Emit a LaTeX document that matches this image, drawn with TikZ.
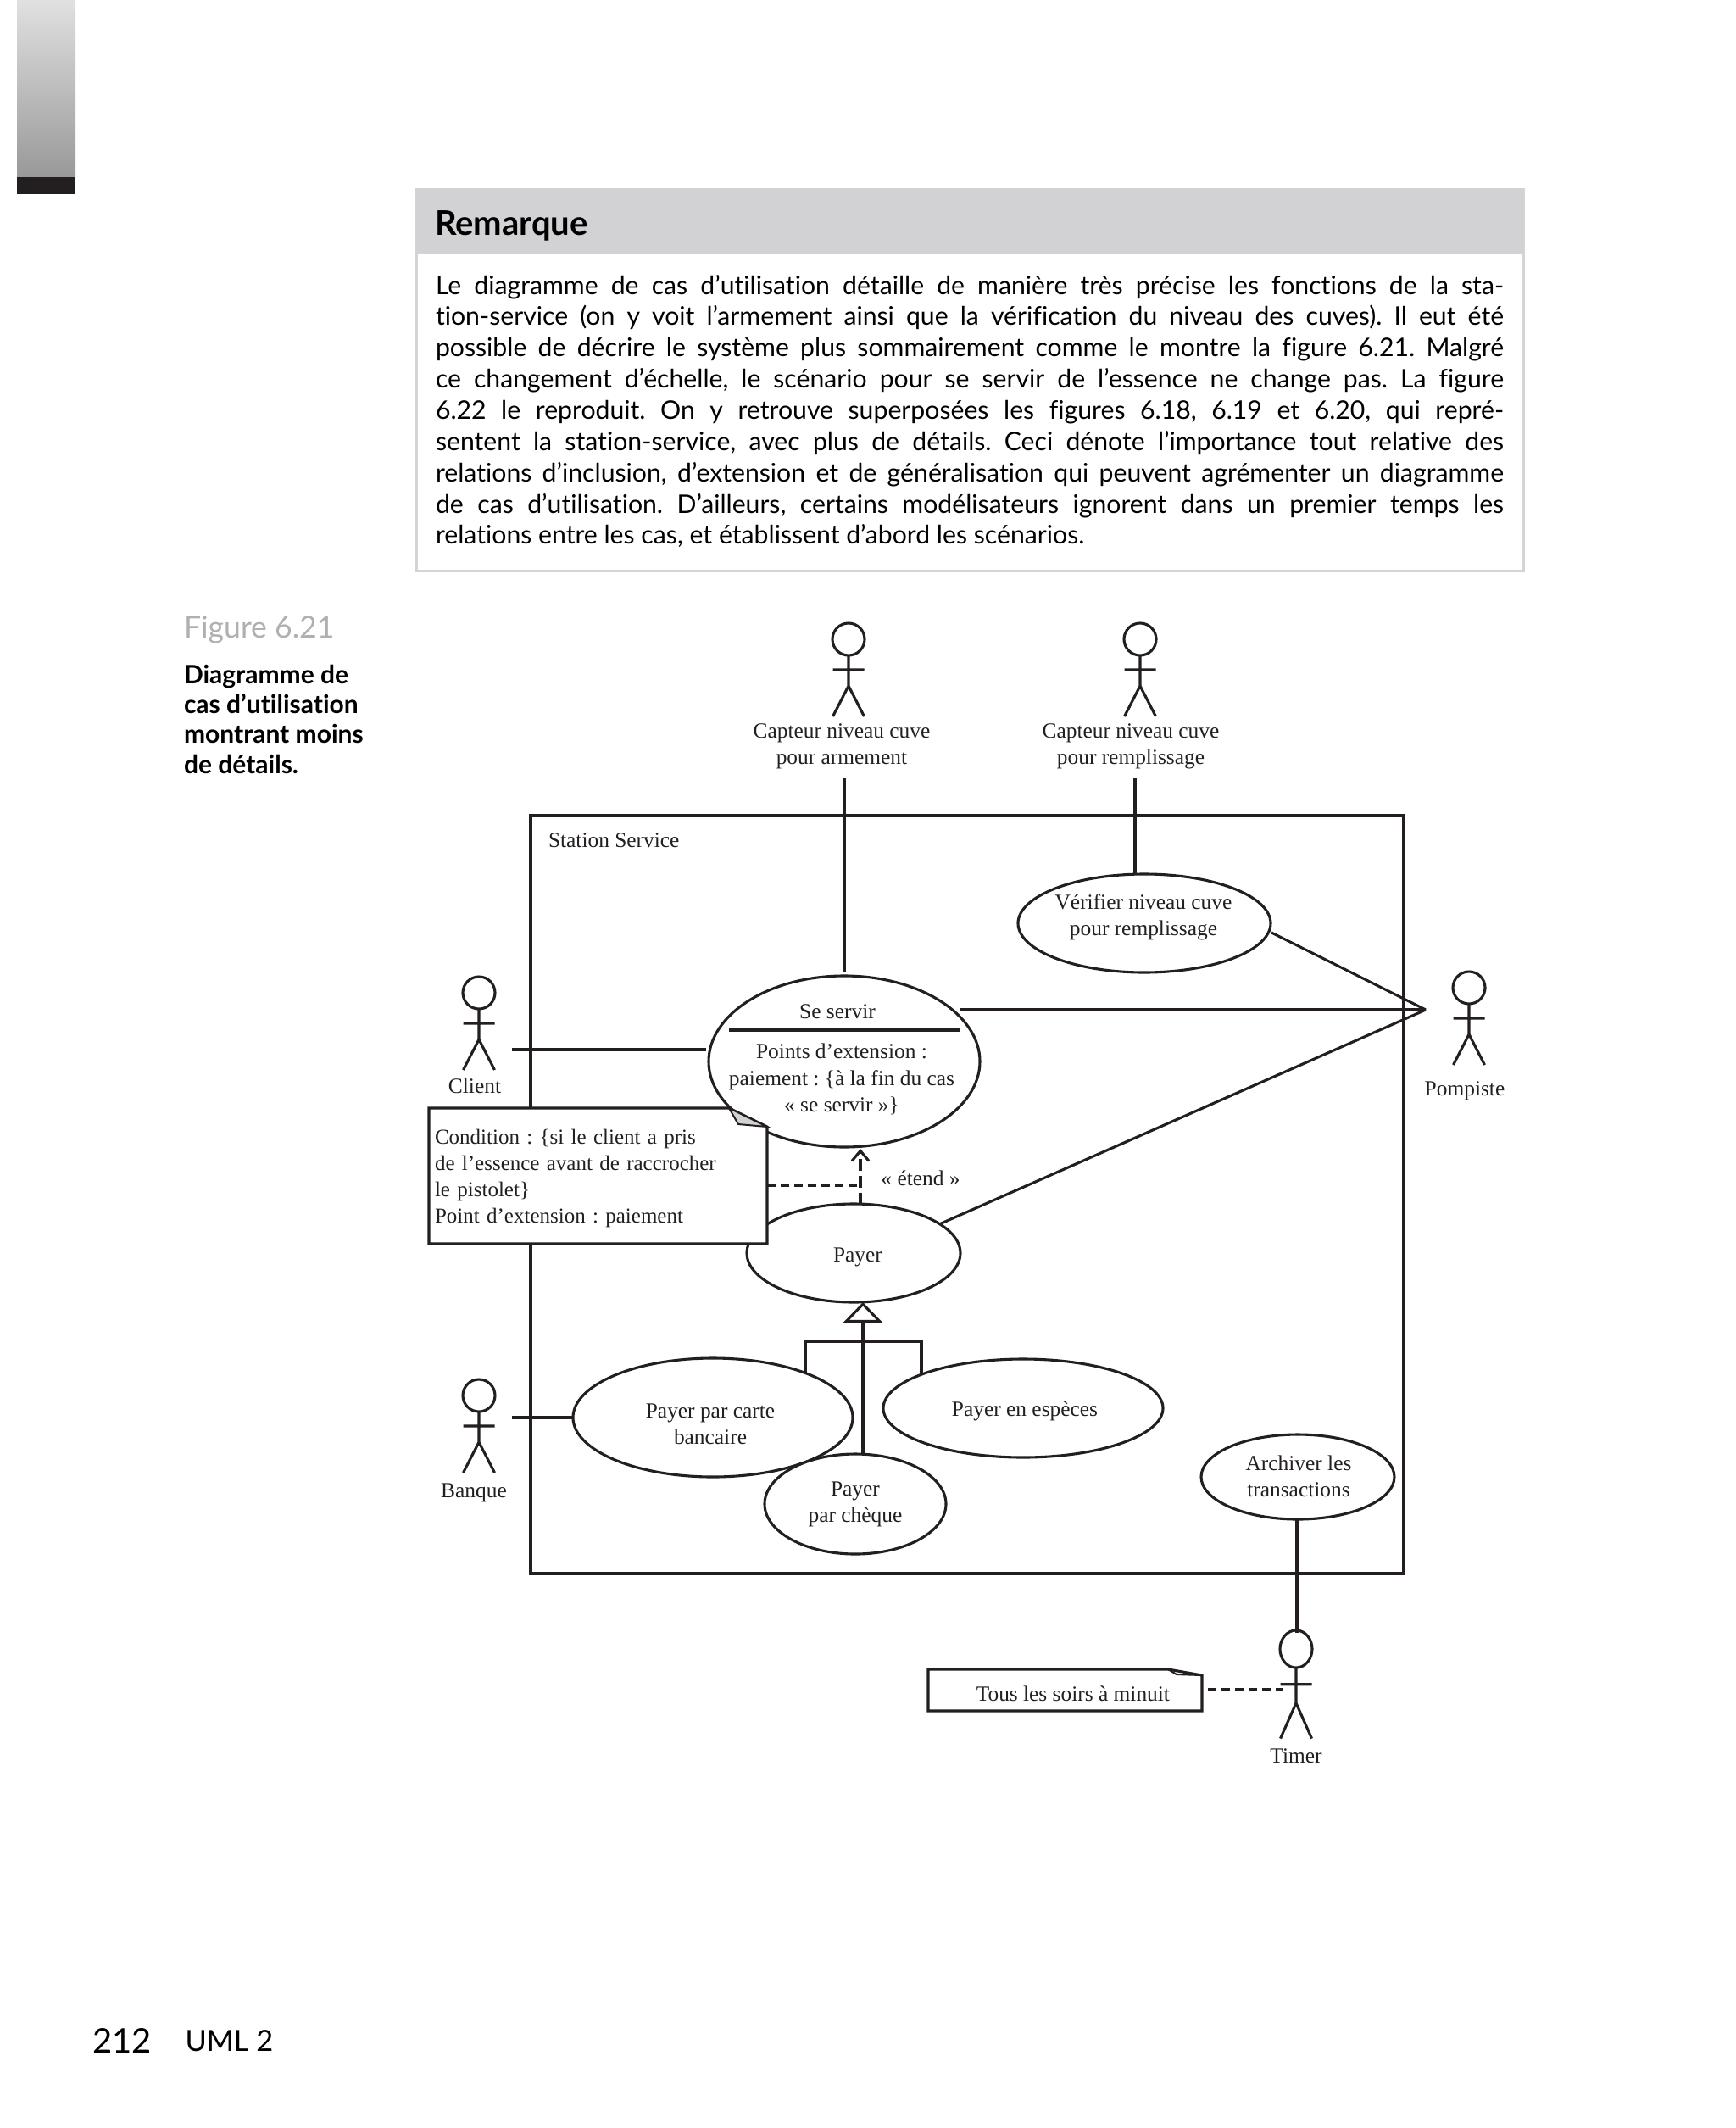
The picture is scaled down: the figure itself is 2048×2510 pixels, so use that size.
\documentclass[tikz,border=0pt]{standalone}
\usepackage{fontspec}
\usepackage{tikz}
\usetikzlibrary{arrows.meta,positioning,shapes.geometric}
\setmainfont{Lato}[Ligatures=NoCommon]
\newfontfamily\umlfont{Liberation Serif}
\definecolor{inkblack}{HTML}{231F20}
\definecolor{headgrey}{HTML}{D2D2D4}
\definecolor{labelgrey}{HTML}{B0B0B2}
\frenchspacing

\begin{document}
\begin{tikzpicture}[x=.5pt,y=-.5pt,>=Latex,
  every node/.style={inner sep=0pt,outer sep=0pt},
  umlline/.style={line width=1.55pt,inkblack},
  umltext/.style={font=\umlfont\fontsize{12.7}{15.6}\selectfont,text=inkblack,align=center},
  usecase/.style={draw,ellipse,umlline,fill=white},
  pics/actor/.style={code={
    \draw[umlline] (0,0) ellipse [x radius=19,y radius=19];
    \draw[umlline] (0,19) -- (0,55) (-18.5,36) -- (18.5,36) (-18.5,91) -- (0,55) -- (18.5,91);
  }}]
\useasboundingbox (0,0) rectangle (2048,2510);

% page furniture
\shade[top color=black!12,bottom color=black!40] (20,0) rectangle (89,209);
\fill[inkblack] (20,209) rectangle (89,229);
\node[anchor=north west,draw=black!17,line width=1.5pt,minimum width=653pt,minimum height=225pt] (remark) at (491,223) {};
\node[anchor=north west,fill=headgrey,minimum width=653pt,minimum height=38.5pt] (remarkhead) at (491,223) {};
\node[anchor=west,font=\fontsize{20}{24}\selectfont\bfseries] (remarktitle) at (513,266) {Remarque};
\node[anchor=west,text width=630pt,align=justify,font=\fontsize{15.1}{18.42}\selectfont] (remarktext) at (514,485) {%
Le diagramme de cas d’utilisation détaille de manière très précise les fonctions de la sta-\linebreak
tion-service (on y voit l’armement ainsi que la vérification du niveau des cuves). Il eut été\linebreak
possible de décrire le système plus sommairement comme le montre la figure 6.21. Malgré\linebreak
ce changement d’échelle, le scénario pour se servir de l’essence ne change pas. La figure\linebreak
6.22 le reproduit. On y retrouve superposées les figures 6.18, 6.19 et 6.20, qui repré-\linebreak
sentent la station-service, avec plus de détails. Ceci dénote l’importance tout relative des\linebreak
relations d’inclusion, d’extension et de généralisation qui peuvent agrémenter un diagramme\linebreak
de cas d’utilisation. D’ailleurs, certains modélisateurs ignorent dans un premier temps les\linebreak
relations entre les cas, et établissent d’abord les scénarios.};
\node[anchor=west,text=labelgrey,font=\fontsize{17.8}{21}\selectfont] (figlabel) at (217,743) {Figure 6.21};
\node[below=12.5pt of figlabel.south west,anchor=north west,align=left,font=\fontsize{15}{17.6}\selectfont\bfseries] (figcaption) {Diagramme de\\cas d’utilisation\\montrant moins\\de détails.};
\node[anchor=west,font=\fontsize{20}{24}\selectfont] (pagenum) at (109,2407) {212};
\node[right=20pt of pagenum,font=\fontsize{17.2}{24}\selectfont] (pagetitle) {UML 2};

% system boundary
\node[anchor=north west,draw,umlline,minimum width=515pt,minimum height=447pt] (station) at (626,962) {};
\node[anchor=west,umltext] (stationlabel) at (647,991) {Station Service};

% actors
\pic (armement) at (1001,754) {actor};
\pic (remplissage) at (1345,754) {actor};
\pic (client) at (565,1171) {actor};
\pic (pompiste) at (1733,1165) {actor};
\pic (banque) at (565,1646) {actor};
\pic[yscale=1.16] (timer) at (1529,1945) {actor};
\node[umltext] (armementlabel) at (993,880) {Capteur niveau cuve\\pour armement};
\node[umltext] (remplissagelabel) at (1334,880) {Capteur niveau cuve\\pour remplissage};
\node[umltext] (clientlabel) at (560,1281) {Client};
\node[umltext] (pompistelabel) at (1728,1287) {Pompiste};
\node[umltext] (banquelabel) at (559,1761) {Banque};
\node[umltext] (timerlabel) at (1529,2071) {Timer};

% free ends of the associations
\coordinate (armementend) at (996,918);
\coordinate (remplissageend) at (1339,918);
\coordinate (clientend) at (604,1238);
\coordinate (clientcase) at (833,1238);
\coordinate (banqueend) at (604,1672);
\coordinate (pompisteend) at (1682,1191);
\coordinate (servirend) at (1132,1191);
\coordinate (verifierend) at (1500,1100);
\coordinate (payerend) at (1108,1444);
\coordinate (servirtop) at (996,1147);
\coordinate (timerend) at (1530,1926);
\coordinate (extendstart) at (1015,1421);
\coordinate (extendtip) at (1015,1355);
\coordinate (elbow) at (1015,1398);
\coordinate (branchleft) at (950,1620);
\coordinate (branchright) at (1087,1620);
\coordinate (branchtop) at (950,1582);
\coordinate (generaltip) at (1018,1536);

% use cases
\draw[umlline] (branchleft) -- (branchtop) -| (branchright);
\node[usecase,minimum width=149pt,minimum height=58pt] (verifier) at (1350,1089) {};
\node[usecase,minimum width=160pt,minimum height=101pt] (servir) at (996,1252) {};
\node[usecase,minimum width=126pt,minimum height=58pt] (payer) at (1007,1478) {};
\node[usecase,minimum width=165pt,minimum height=70pt] (carte) at (841,1672) {};
\node[usecase,minimum width=165pt,minimum height=58pt] (especes) at (1207,1661) {};
\node[usecase,minimum width=107pt,minimum height=59pt] (cheque) at (1009,1774) {};
\node[usecase,minimum width=114pt,minimum height=50pt] (archiver) at (1531,1742) {};
\node[umltext] (verifierlabel) at (1349,1082) {Vérifier niveau cuve\\pour remplissage};
\node[umltext] (payerlabel) at (1012,1483) {Payer};
\node[umltext] (cartelabel) at (838,1680) {Payer par carte\\bancaire};
\node[umltext] (especeslabel) at (1209,1664) {Payer en espèces};
\node[umltext] (chequelabel) at (1009,1774) {Payer\\par chèque};
\node[umltext] (archiverlabel) at (1532,1741) {Archiver les\\transactions};
\node[umltext] (servirtitle) at (988,1193) {Se servir};
\node[umltext] (servirpoints) at (993,1273) {Points d’extension :\\paiement : \{à la fin du cas\\« se servir »\}};
\draw[umlline] (860,1215) -- (servirend |- 0,1215);

% connectors
\draw[umlline] (armementend) -- (servirtop);
\draw[umlline] (remplissageend) -- (verifier.north -| remplissageend);
\draw[umlline] (verifierend) -- (pompisteend);
\draw[umlline] (servirend) -- (pompisteend);
\draw[umlline] (payerend) -- (pompisteend);
\draw[umlline] (clientend) -- (clientcase);
\draw[umlline] (banqueend) -- (carte.west);
\draw[umlline] (archiver.south -| timerend) -- (timerend);
\draw[umlline,dash pattern=on 7pt off 3pt,-{Straight Barb[length=6pt,width=10pt]}] (extendstart) -- (extendtip);
\draw[umlline,-{Triangle[open,fill=white,length=12pt,width=23pt]}] (cheque.north -| generaltip) -- (generaltip);
\node[umltext] (extendlabel) at (1086,1390) {« étend »};

% notes
\draw[umlline,fill=white] (506,1307) -- (860,1307) -- (905,1329) -- (905,1467) -- (506,1467) -- cycle;
\draw[umlline,fill=headgrey,line width=1pt] (860,1307) -- (871,1326) -- (905,1329) -- cycle;
\node[umltext,font=\umlfont\fontsize{12.5}{15.6}\selectfont,align=left,anchor=west,text width=196pt] (condition) at (513,1390) {Condition : \{si le client a pris\\de l’essence avant de raccrocher\\le pistolet\}\\Point d’extension : paiement};
\draw[umlline,dash pattern=on 5pt off 3pt] (condition.east |- elbow) -- (elbow);
\draw[umlline,fill=white] (1095,1969) -- (1378,1969) -- (1418,1976) -- (1418,2018) -- (1095,2018) -- cycle;
\draw[umlline,line width=1pt] (1378,1969) -- (1388,1975) -- (1418,1976);
\node[umltext,anchor=east] (minuit) at (1380,1998) {Tous les soirs à minuit};
\coordinate (noteend) at (1425,1993);
\coordinate (timerarm) at (1514,1993);
\draw[umlline,dash pattern=on 5pt off 3pt] (noteend) -- (timerarm);
\end{tikzpicture}
\end{document}
